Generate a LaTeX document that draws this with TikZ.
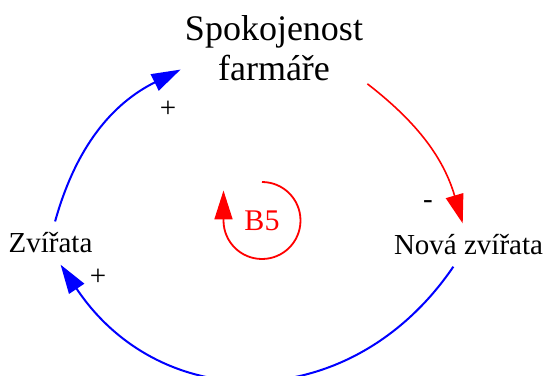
\documentclass[tikz,border=0pt]{standalone}
\usepackage{fontspec}
\setmainfont{Liberation Serif}
\usetikzlibrary{arrows.meta}

\begin{document}
\begin{tikzpicture}[
  x=0.5pt, y=0.5pt,
  var/.style={inner xsep=2pt, inner ysep=5.5pt, font=\fontsize{14.5}{17}\selectfont},
  sign/.style={inner sep=0pt, font=\fontsize{14.5}{17}\selectfont},
  link/.style={line width=1pt, -{Triangle[length=14.5pt,width=9pt]}}
]
  \useasboundingbox (0,0) rectangle (548,376);

  % Variables
  \node[var, align=center, inner ysep=2pt, font=\fontsize{18}{19.7}\selectfont] (spok) at (274,328) {Spokojenost\\farmáře};
  \node[var, anchor=base] (zv) at (50.5,123) {Zvířata};
  \node[var, anchor=base] (nova) at (468.5,121) {Nová zvířata};

  % Loop marker
  \node[text=red, font=\fontsize{15}{18}\selectfont] (b5) at (262,155.5) {B5};
  \draw[red, line width=0.9pt, -{Triangle[length=14.5pt,width=9pt]}]
    (b5.center) ++(0,38.5) arc[start angle=90, end angle=-180, radius=38.5] -- ++(0,30);

  % Links
  \draw[link, blue] (zv.78) to[bend left=24] (spok.193);
  \draw[link, red, line width=0.8pt] (spok.-21) to[bend left=18] (nova.105);
  \draw[link, blue] (nova.235) to[bend left=56, looseness=1.18] (zv.295);

  % Polarities
  \node[sign] (pl1) at (168,267) {+};
  \node[sign] (mi1) at (428,171) {-};
  \node[sign] (pl2) at (98,99) {+};
\end{tikzpicture}
\end{document}
